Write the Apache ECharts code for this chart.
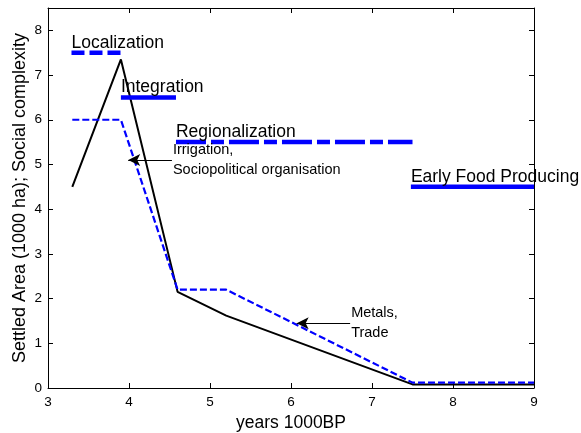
<!DOCTYPE html>
<html><head><meta charset="utf-8">
<script src="https://cdn.jsdelivr.net/npm/echarts@6/dist/echarts.min.js"></script>
<style>html,body{margin:0;padding:0;background:#fff}#c{width:581px;height:433px}</style>
</head><body><div id="c"></div>
<script>
// Data
const xTicks = [3,4,5,6,7,8,9];
const yTicks = [0,1,2,3,4,5,6,7,8];
const settledX = [3.3, 3.9, 4.6, 5.2, 7.5, 9];
const settledY = [4.5, 7.35, 2.15, 1.62, 0.08, 0.08];
const complexX = [3.3, 3.9, 4.6, 5.2, 7.5, 9];
const complexY = [6.0, 6.0, 2.2, 2.2, 0.12, 0.12];
const phaseNames = ['Localization','Integration','Regionalization','Early Food Producing'];
const phaseStart = [3.29, 3.9, 4.58, 7.48];
const phaseEnd   = [3.9, 4.58, 7.5, 9.0];
const phaseLevel = [7.5, 6.5, 5.5, 4.5];
const annotTexts = ['Irrigation,\nSociopolitical organisation', 'Metals,\nTrade'];
const annotTipX = [3.99, 6.07];
const annotTailX = [4.53, 6.73];
const annotY = [5.1, 1.45];

const pair = (xs, ys) => xs.map((x,i)=>[x, ys[i]]);
const font = '"Liberation Sans", Arial, sans-serif';
const phaseStyles = [
  {type:[13,5], width:4.5},
  {type:'solid', width:4.5},
  {type:[30,5,13,5], width:4.5},
  {type:'solid', width:4.5}
];

const series = [
  {type:'line', data: pair(settledX, settledY), symbol:'none', lineStyle:{color:'#000', width:2}, clip:false, z:3},
  {type:'line', data: pair(complexX, complexY), symbol:'none', lineStyle:{color:'#0000ff', width:2.2, type:[7,3]}, clip:false, z:3}
];
phaseNames.forEach((name,i)=>{
  series.push({
    type:'line', symbol:'none', clip:false, z:4,
    data:[[phaseStart[i], phaseLevel[i]],[phaseEnd[i], phaseLevel[i]]],
    lineStyle:{color:'#0000ff', width:phaseStyles[i].width, type:phaseStyles[i].type, cap:'butt'},
    markPoint:{
      symbol:'circle', symbolSize:0, silent:true,
      data:[{coord:[phaseStart[i], phaseLevel[i]], value:name}],
      label:{show:true, position:'right', distance:0, offset:[0,-10], formatter:name,
        color:'#000', fontFamily:font, fontSize:17.5}
    }
  });
});
annotTexts.forEach((t,i)=>{
  series.push({
    type:'line', symbol:'none', data:[], z:5,
    markLine:{
      silent:true, symbol:['none','arrow'], symbolSize:[9,12],
      lineStyle:{color:'#000', width:1, type:'solid'},
      label:{show:false},
      data:[[{coord:[annotTailX[i], annotY[i]]},{coord:[annotTipX[i], annotY[i]]}]]
    },
    markPoint:{
      symbol:'circle', symbolSize:0, silent:true,
      data:[{coord:[annotTailX[i], annotY[i]], value:t}],
      label:{show:true, position:'right', distance:0, offset:[1,0], formatter:t,
        color:'#000', fontFamily:font, fontSize:14.5, lineHeight:20}
    }
  });
});

const axisCommon = {
  axisLine:{show:true, onZero:false, lineStyle:{color:'#000', width:1}},
  axisTick:{show:true, inside:true, length:5, lineStyle:{color:'#000'}},
  splitLine:{show:false}
};
const chart = echarts.init(document.getElementById('c'), null, {renderer:'canvas'});
chart.setOption({
  animation:false,
  backgroundColor:'#fff',
  grid:{left:48, right:47, top:8, bottom:45, containLabel:false, outerBoundsMode:'none'},
  xAxis:[
    Object.assign({type:'value', min:xTicks[0], max:xTicks[xTicks.length-1], interval:1, position:'bottom',
      name:'years 1000BP', nameLocation:'middle', nameGap:22,
      nameTextStyle:{color:'#000', fontFamily:font, fontSize:17.5},
      axisLabel:{color:'#000', fontFamily:font, fontSize:13.5, margin:7}}, axisCommon),
    Object.assign({type:'value', min:xTicks[0], max:xTicks[xTicks.length-1], interval:1, position:'top',
      axisLabel:{show:false}}, axisCommon)
  ],
  yAxis:[
    Object.assign({type:'value', min:yTicks[0], max:8.5, interval:1, position:'left',
      name:'Settled Area (1000 ha); Social complexity', nameLocation:'middle', nameGap:24,
      nameMoveOverlap:false,
      nameTextStyle:{color:'#000', fontFamily:font, fontSize:18, padding:[0,0,-5,0]},
      axisLabel:{color:'#000', fontFamily:font, fontSize:13.5, margin:6, showMaxLabel:false,
        formatter:v=> Number.isInteger(v) ? String(v) : ''}}, axisCommon),
    Object.assign({type:'value', min:yTicks[0], max:8.5, interval:1, position:'right',
      axisLabel:{show:false}}, axisCommon)
  ],
  series: series
});
</script>
</body></html>
